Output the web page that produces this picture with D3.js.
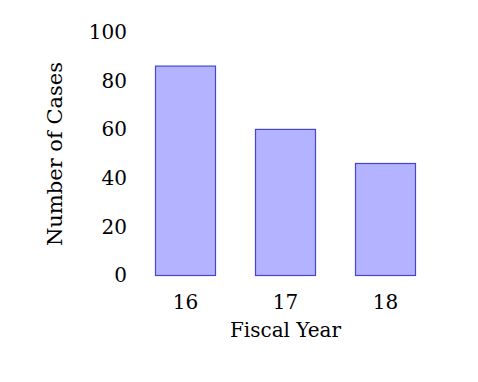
<!DOCTYPE html>
<html><head><meta charset="utf-8">
<script src="https://cdn.jsdelivr.net/npm/d3@7"></script>
<style>body{margin:0;background:#fff}text{font-family:"DejaVu Serif",serif;fill:#000}</style>
</head><body><svg id="c" width="478" height="382"></svg>
<script>
const categories = ["16","17","18"];
const values = [86, 60, 46];
const yTicks = [0,20,40,60,80,100];
const xTitle = "Fiscal Year";
const yTitle = "Number of Cases";

const svg = d3.select("#c");
const fs = 20;
const ff = "DejaVu Serif";
const x = d3.scaleBand().domain(categories).range([135.5, 435.5]).paddingInner(0.4).paddingOuter(0.2);
const y = d3.scaleLinear().domain([0,100]).range([275.5, 32]);

svg.selectAll("rect.bar").data(categories).enter().append("rect")
  .attr("class","bar")
  .attr("x", d => x(d))
  .attr("width", x.bandwidth())
  .attr("y", (d,i) => y(values[i]))
  .attr("height", (d,i) => y(0) - y(values[i]))
  .attr("fill", "#b3b3ff").attr("stroke", "#4646c8").attr("stroke-width", 1.2);

const ya = svg.append("g").attr("transform","translate(139,0)")
  .call(d3.axisLeft(y).tickValues(yTicks).tickSize(0).tickPadding(12));
ya.select(".domain").remove();
ya.selectAll("text").style("font-size", fs+"px").style("font-family",ff);

const xa = svg.append("g").attr("transform","translate(0,282)")
  .call(d3.axisBottom(x).tickSize(0).tickPadding(13));
xa.select(".domain").remove();
xa.selectAll("text").style("font-size", fs+"px").style("font-family",ff);

svg.append("text").attr("x", 285.5).attr("y", 337).attr("text-anchor","middle")
  .style("font-size", fs+"px").text(xTitle);
svg.append("text").attr("transform","translate(62,154) rotate(-90)").attr("text-anchor","middle")
  .style("font-size", "21px").text(yTitle);
</script></body></html>
